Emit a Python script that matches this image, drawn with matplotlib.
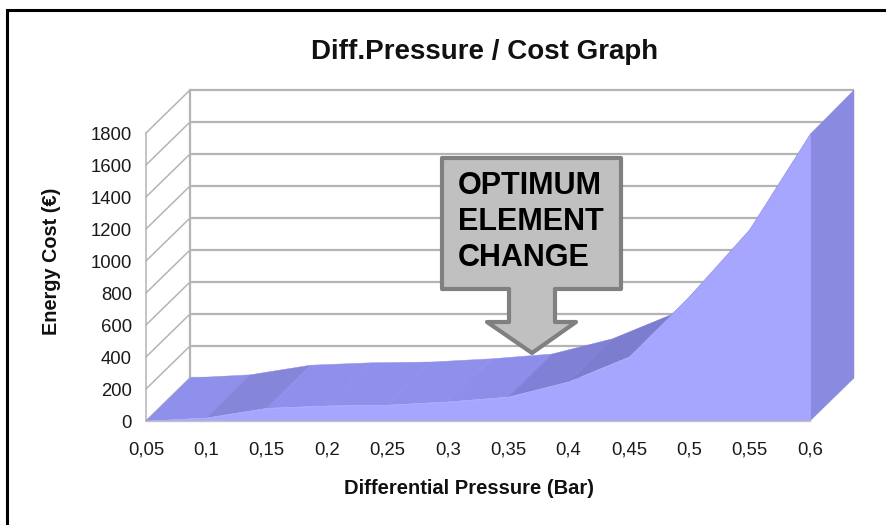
import matplotlib
matplotlib.use("Agg")
import matplotlib.pyplot as plt
from matplotlib.patches import Polygon

plt.rcParams['font.family'] = ['Liberation Sans', 'DejaVu Sans']

# Data
pressure_labels = ['0,05', '0,1', '0,15', '0,2', '0,25', '0,3', '0,35', '0,4', '0,45', '0,5', '0,55', '0,6']
energy_cost = [0, 20, 80, 95, 100, 120, 150, 245, 400, 775, 1195, 1790]
y_ticks = [0, 200, 400, 600, 800, 1000, 1200, 1400, 1600, 1800]
title = 'Diff.Pressure / Cost Graph'
x_label = 'Differential Pressure (Bar)'
y_label = 'Energy Cost (€)'
callout_lines = ['OPTIMUM', 'ELEMENT', 'CHANGE']

W, H = 887, 525
fig = plt.figure(figsize=(W / 100, H / 100), dpi=100, facecolor='white')

# Front plane of the pseudo-3D chart
L, R, T, B = 146, 810, 133, 421
ax = fig.add_axes([L / W, 1 - B / H, (R - L) / W, (B - T) / H])
n = len(energy_cost)
ax.set_xlim(0, n - 1)
ax.set_ylim(0, 1800)
for s in ax.spines.values():
    s.set_visible(False)
ax.patch.set_alpha(0)
ax.set_xticks(range(n), pressure_labels)
ax.set_yticks(y_ticks)
ax.tick_params(axis='both', length=0, labelsize=13.3, colors='#1a1a1a')
ax.tick_params(axis='y', pad=10)
ax.tick_params(axis='x', pad=14.5)

# Depth offset, converted from pixels to data units
dx = 44 / ((R - L) / (n - 1))
dy = 43 / ((B - T) / 1800)

GRID = '#b4b4b4'
x_end = n - 1
for v in y_ticks:
    ax.plot([dx, x_end + dx], [v + dy, v + dy], color=GRID, lw=1.6, clip_on=False, zorder=1,
            solid_capstyle='butt')
    ax.plot([0, dx], [v, v + dy], color=GRID, lw=1.1, clip_on=False, zorder=1)
ax.plot([0, 0], [0, 1800], color=GRID, lw=1.1, clip_on=False, zorder=1)
ax.plot([dx, dx], [dy, 1800 + dy], color=GRID, lw=1.6, clip_on=False, zorder=1)

# Top surface of the area, one facet per segment
facet_colors = ['#8f8fec', '#8585d9', '#8f8fec', '#8f8fec', '#8f8fec', '#8e8eea',
                '#8080d6', '#7d7dcf', '#8a8ae0', '#8a8ae0', '#8a8ae0']
for i in range(n - 1):
    a, b = energy_cost[i], energy_cost[i + 1]
    ax.add_patch(Polygon([(i, a), (i + 1, b), (i + 1 + dx, b + dy), (i + dx, a + dy)],
                         closed=True, fc=facet_colors[i], ec=facet_colors[i], lw=0.3,
                         clip_on=False, zorder=2))

# Right side wall
last = energy_cost[-1]
ax.add_patch(Polygon([(x_end, 0), (x_end, last), (x_end + dx, 1800 + dy), (x_end + dx, dy)],
                     closed=True, fc='#8a8ae0', ec='#8a8ae0', lw=0.3, clip_on=False, zorder=3))

# Front face
ax.fill_between(range(n), 0, energy_cost, color='#a6a6ff', lw=0.6, clip_on=False, zorder=4)
ax.plot([0, x_end], [0, 0], color='#c4c4c4', lw=1.0, clip_on=False, zorder=5)

# Overlay in pixel coordinates for the frame, callout and titles
ov = fig.add_axes([0, 0, 1, 1], zorder=10)
ov.set_xlim(0, W)
ov.set_ylim(H, 0)
ov.axis('off')
ov.patch.set_alpha(0)

ov.plot([7.5, 7.5, W], [H, 9.5, 9.5], color='black', lw=2.2, solid_joinstyle='miter')

shape = [(442, 158), (621, 158), (621, 289), (555, 289), (555, 322), (576, 322),
         (532, 353), (487, 322), (509, 322), (509, 289), (442, 289)]
ov.add_patch(Polygon(shape, closed=True, fc='#c0c0c0', ec='#808080', lw=3, joinstyle='round'))
for line, base in zip(callout_lines, [194, 230, 266]):
    ov.text(458, base, line, fontsize=22, fontweight='bold', color='black', ha='left', va='baseline')

ov.text(485, 59, title, fontsize=20, fontweight='bold', color='#111111', ha='center', va='baseline')
ov.text(469, 494, x_label, fontsize=14.5, fontweight='bold', color='#111111', ha='center', va='baseline')
ov.text(52, 261, y_label, fontsize=14.3, fontweight='bold', color='#111111', rotation=90, ha='center', va='center')

fig.savefig('out.png', dpi=100, facecolor='white')
